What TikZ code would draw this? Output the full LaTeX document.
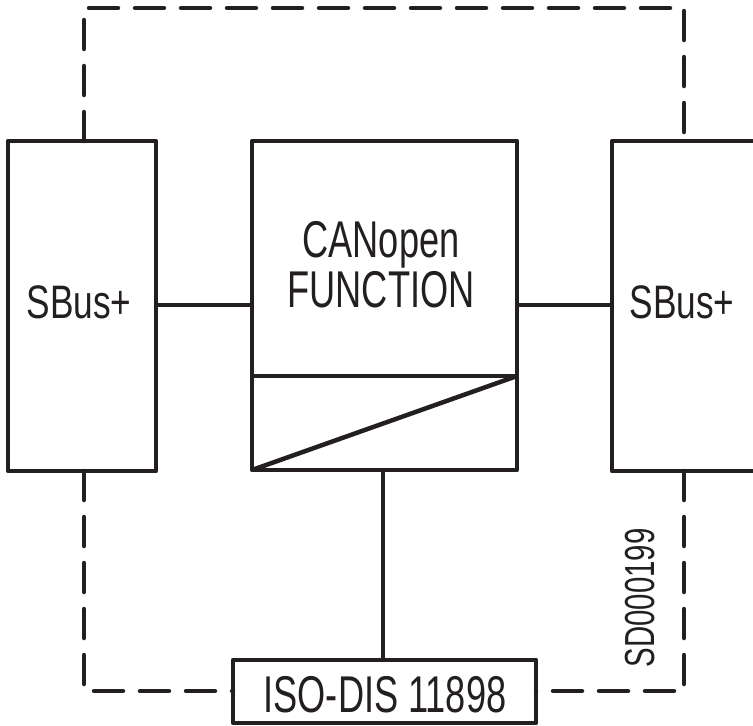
\documentclass[tikz,border=0pt]{standalone}
\usepackage{fontspec}
\newfontfamily\narrowfont[FakeStretch=0.7]{Liberation Sans}
\newfontfamily\sbusfont[FakeStretch=0.75]{Liberation Sans}
\definecolor{ink}{HTML}{231F20}
\begin{document}
\begin{tikzpicture}[x=1pt,y=-1pt,
  box/.style={draw=ink,line width=4.5pt,inner sep=0pt,outer sep=0pt,line join=round},
  solidline/.style={draw=ink,line width=4.5pt},
  dashline/.style={draw=ink,line width=4.5pt,line cap=round,line join=round,dash pattern=on 29pt off 17pt},
  label/.style={text=ink,inner sep=0pt,anchor=base,font=\narrowfont\fontsize{51.7}{52}\selectfont},
  smalllabel/.style={label,font=\sbusfont\fontsize{47}{48}\selectfont}]
\useasboundingbox (0,0) rectangle (753,726);
\clip (0,0) rectangle (753,726);
% boxes
\node[box,minimum width=148pt,minimum height=330pt] (lbox) at (82,306) {};
\node[box,minimum width=265pt,minimum height=329pt] (cbox) at (384.5,305.5) {};
\node[box,minimum width=170pt,minimum height=330pt] (rbox) at (697,306) {};
\node[box,minimum width=303pt,minimum height=63pt] (bbox) at (384.5,691.5) {};
% divider and diagonal of converter
\coordinate (divl) at (252,376);
\coordinate (divr) at (517,376);
\draw[solidline] (divl) -- (divr);
\draw[solidline] (cbox.south west) -- (divr);
% connectors
\draw[solidline] (lbox.east |- 0,305) -- (cbox.west |- 0,305);
\draw[solidline] (cbox.east |- 0,305) -- (rbox.west |- 0,305);
\draw[solidline] (383,0 |- cbox.south) -- (383,0 |- bbox.north);
% dashed enclosure
\coordinate (tl) at (84,8);
\coordinate (tr) at (684,8);
\coordinate (bl) at (84,691);
\coordinate (br) at (684,691);
\draw[dashline] (84,0 |- lbox.north) -- (tl) -- (tr) -- (684,0 |- rbox.north);
\draw[dashline] (84,0 |- lbox.south) -- (bl) -- (bbox.west |- bl);
\draw[dashline] (684,0 |- rbox.south) -- (br) -- (bbox.east |- br);
% texts
\node[smalllabel] (lt) at (79,318) {SBus+};
\node[smalllabel] (rt) at (682,318) {SBus+};
\node[label] (c1) at (381,257) {CANopen};
\node[label] (c2) at (381,307) {FUNCTION};
\node[label] (bt) at (385,712) {ISO-DIS 11898};
\node[text=ink,inner sep=0pt,rotate=90,font=\narrowfont\fontsize{42}{44}\selectfont] (sd) at (640,598) {SD000199};
\end{tikzpicture}
\end{document}
